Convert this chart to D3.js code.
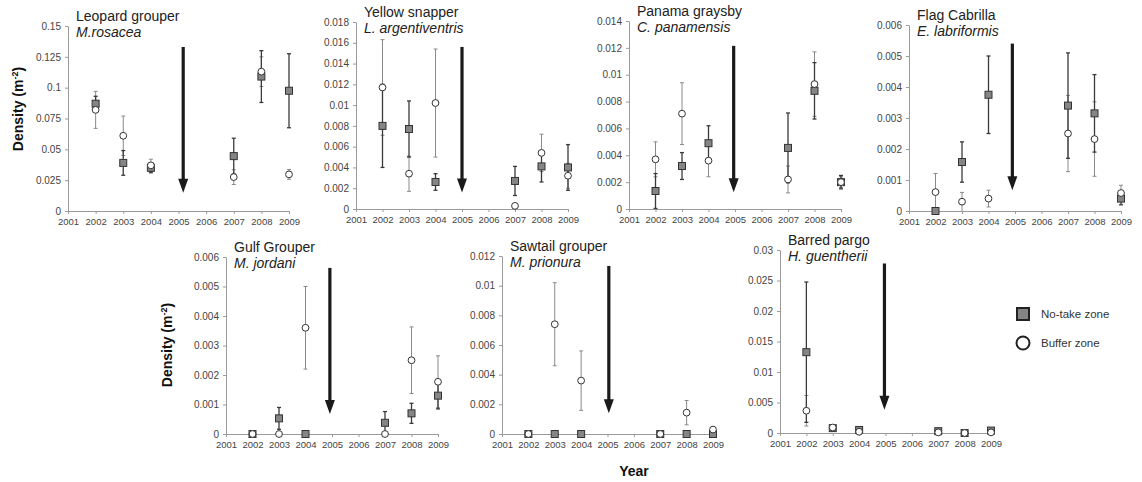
<!DOCTYPE html>
<html>
<head>
<meta charset="utf-8">
<script src="https://cdn.jsdelivr.net/npm/d3@7"></script>
<style>
  body { margin: 0; background: #fff; }
  text { font-family: "Liberation Sans", Arial, sans-serif; }
</style>
</head>
<body>
<svg id="chart" width="1142" height="482"></svg>
<script>
// data
var years = [2002, 2003, 2004, 2007, 2008, 2009];
var commonNames = ["Leopard grouper", "Yellow snapper", "Panama graysby", "Flag Cabrilla", "Gulf Grouper", "Sawtail grouper", "Barred pargo"];
var sciNames = ["M.rosacea", "L. argentiventris", "C. panamensis", "E. labriformis", "M. jordani", "M. prionura", "H. guentherii"];
var yMax = [0.15, 0.018, 0.014, 0.006, 0.006, 0.012, 0.03];
var yStep = [0.025, 0.002, 0.002, 0.001, 0.001, 0.002, 0.005];

var noTake = [
  [0.087, 0.039, 0.035, 0.0445, 0.109, 0.0975],
  [0.0080, 0.0077, 0.0026, 0.0027, 0.0041, 0.0040],
  [0.00134, 0.0032, 0.0049, 0.00455, 0.0088, 0.0020],
  [0, 0.00158, 0.00375, 0.0034, 0.00315, 0.0004],
  [0, 0.00053, 0, 0.00038, 0.0007, 0.0013],
  [0, 0, 0, 0, 0, 0],
  [0.01325, 0.0008, 0.0005, 0.0003, 0, 0.0004]
];
var noTakeErr = [
  [0.006, 0.010, 0.004, 0.0145, 0.021, 0.030],
  [0.004, 0.0027, 0.0008, 0.0014, 0.0015, 0.0022],
  [0.0013, 0.001, 0.0013, 0.0026, 0.0021, 0.0005],
  [0, 0.00065, 0.00125, 0.0017, 0.00125, 0.0002],
  [0, 0.00037, 0, 0.00038, 0.00034, 0.00045],
  [0, 0, 0, 0, 0, 0],
  [0.0115, 0.0002, 0.0001, 0.0001, 0, 0.0001]
];
var buffer = [
  [0.082, 0.061, 0.037, 0.0275, 0.113, 0.0297],
  [0.0117, 0.0034, 0.0102, 0.0003, 0.0054, 0.0032],
  [0.0037, 0.0071, 0.0036, 0.0022, 0.0093, 0.0020],
  [0.00061, 0.0003, 0.0004, 0.0025, 0.00232, 0.00058],
  [0, 0, 0.0036, 0, 0.0025, 0.00177],
  [0, 0.0074, 0.0036, 0, 0.00144, 0.0003],
  [0.00365, 0.0009, 0.0002, 0.0001, 0, 0.0001]
];
var bufferErr = [
  [0.015, 0.016, 0.005, 0.006, 0.012, 0.004],
  [0.0046, 0.0017, 0.0052, 0.0002, 0.0018, 0.0012],
  [0.0013, 0.0023, 0.0012, 0.001, 0.0024, 0.0004],
  [0.0006, 0.0003, 0.00027, 0.00123, 0.0012, 0.00025],
  [0, 0, 0.0014, 0, 0.00113, 0.00088],
  [0, 0.0028, 0.002, 0, 0.00082, 0.0001],
  [0.0025, 0.0002, 0.0001, 0.0001, 0, 0.0001]
];

// arrow marking 2005, in data units
var arrowYear = [2005.17, 2005.0, 2004.95, 2004.9, 2004.92, 2005.05, 2004.96];
var arrowTop = [0.133, 0.0156, 0.01215, 0.0054, 0.00563, 0.01133, 0.0278];
var arrowTip = [0.0148, 0.0016, 0.00124, 0.00067, 0.00068, 0.0014, 0.0038];

// panel boxes in px
var boxes = [
  {left: 68, right: 289, top: 26, bottom: 211},
  {left: 356, right: 568, top: 22, bottom: 209},
  {left: 629, right: 841, top: 21, bottom: 209},
  {left: 909, right: 1121, top: 25, bottom: 211},
  {left: 226, right: 438, top: 257, bottom: 434},
  {left: 502, right: 713, top: 256, bottom: 434},
  {left: 780, right: 991, top: 250, bottom: 433}
];

var svg = d3.select("#chart");
var fmt = d3.format(".6~f");

commonNames.forEach(function(name, i) {
  var b = boxes[i];
  var x = d3.scaleLinear().domain([2001, 2009]).range([b.left, b.right]);
  var y = d3.scaleLinear().domain([0, yMax[i]]).range([b.bottom, b.top]);
  var g = svg.append("g").attr("class", "panel");

  var yTicks = d3.range(0, yMax[i] + yStep[i] / 2, yStep[i]);
  var ya = g.append("g").attr("transform", "translate(" + b.left + ",0)")
    .call(d3.axisLeft(y).tickValues(yTicks).tickSize(3).tickSizeOuter(0).tickPadding(4).tickFormat(fmt));
  var xa = g.append("g").attr("transform", "translate(0," + b.bottom + ")")
    .call(d3.axisBottom(x).tickValues(d3.range(2001, 2010)).tickSize(3).tickSizeOuter(0).tickPadding(4).tickFormat(d3.format("d")));
  [ya, xa].forEach(function(a) {
    a.select(".domain").attr("stroke", "#9a9a9a");
    a.selectAll(".tick line").attr("stroke", "#9a9a9a");
    a.selectAll(".tick text").attr("fill", "#444").style("font-size", "9.5px");
  });
  ya.selectAll(".tick text").style("font-size", "10px");

  // title
  g.append("text").attr("x", b.left + 8).attr("y", b.top - 5)
    .attr("fill", "#222").style("font-size", "14px").text(name);
  g.append("text").attr("x", b.left + 8).attr("y", b.top + 11)
    .attr("fill", "#222").style("font-size", "14px").style("font-style", "italic").text(sciNames[i]);

  // arrow
  var ax = x(arrowYear[i]), at = y(arrowTop[i]), ap = y(arrowTip[i]);
  g.append("line").attr("x1", ax).attr("x2", ax).attr("y1", at).attr("y2", ap - 10)
    .attr("stroke", "#1a1a1a").attr("stroke-width", 3.2);
  g.append("path")
    .attr("d", "M" + (ax - 5) + "," + (ap - 14) + "L" + (ax + 5) + "," + (ap - 14) + "L" + ax + "," + ap + "Z")
    .attr("fill", "#1a1a1a");

  function errBars(vals, errs, color, width) {
    var eg = g.append("g").attr("stroke", color).attr("stroke-width", width);
    years.forEach(function(yr, j) {
      if (errs[j] <= 0) return;
      var lo = y(Math.max(0, vals[j] - errs[j])), hi = y(vals[j] + errs[j]), cx = x(yr);
      eg.append("line").attr("x1", cx).attr("x2", cx).attr("y1", lo).attr("y2", hi);
      eg.append("line").attr("x1", cx - 2).attr("x2", cx + 2).attr("y1", hi).attr("y2", hi);
      if (vals[j] - errs[j] > 0)
        eg.append("line").attr("x1", cx - 2).attr("x2", cx + 2).attr("y1", lo).attr("y2", lo);
    });
  }
  errBars(buffer[i], bufferErr[i], "#8a8a8a", 1);
  errBars(noTake[i], noTakeErr[i], "#3a3a3a", 1.3);

  g.append("g").selectAll("rect").data(years).join("rect")
    .attr("x", function(d) { return x(d) - 3.5; })
    .attr("y", function(d, j) { return y(noTake[i][j]) - 3.5; })
    .attr("width", 7).attr("height", 7)
    .attr("fill", "#858585").attr("stroke", "#333").attr("stroke-width", 1);

  g.append("g").selectAll("circle").data(years).join("circle")
    .attr("cx", function(d) { return x(d); })
    .attr("cy", function(d, j) { return y(buffer[i][j]); })
    .attr("r", 3.4)
    .attr("fill", "#fff").attr("stroke", "#333").attr("stroke-width", 1);
});

// axis titles
function densityLabel(cx, cy) {
  var t = svg.append("text")
    .attr("transform", "translate(" + cx + "," + cy + ") rotate(-90)")
    .attr("text-anchor", "middle").attr("fill", "#111")
    .style("font-size", "14px").style("font-weight", "bold");
  t.append("tspan").text("Density (m");
  t.append("tspan").attr("dy", -5).style("font-size", "9px").text("-2");
  t.append("tspan").attr("dy", 5).text(")");
}
densityLabel(23, 109);
densityLabel(172, 345);

svg.append("text").attr("x", 634).attr("y", 476).attr("text-anchor", "middle")
  .attr("fill", "#111").style("font-size", "14px").style("font-weight", "bold").text("Year");

// legend
var lg = svg.append("g");
lg.append("rect").attr("x", 1017).attr("y", 308).attr("width", 12).attr("height", 12)
  .attr("fill", "#858585").attr("stroke", "#222").attr("stroke-width", 2);
lg.append("circle").attr("cx", 1023).attr("cy", 343).attr("r", 6.5)
  .attr("fill", "#fff").attr("stroke", "#222").attr("stroke-width", 2);
lg.append("text").attr("x", 1041).attr("y", 318).attr("fill", "#333").style("font-size", "11.5px").text("No-take zone");
lg.append("text").attr("x", 1041).attr("y", 347).attr("fill", "#333").style("font-size", "11.5px").text("Buffer zone");
</script>
</body>
</html>
